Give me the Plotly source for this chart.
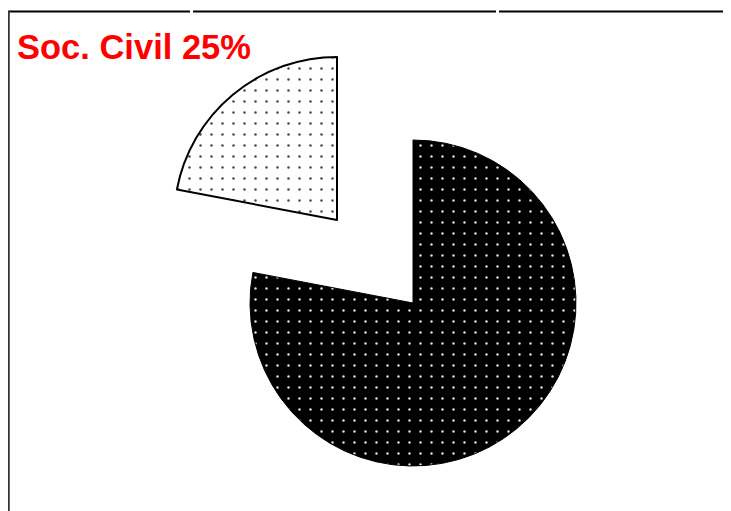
import plotly.graph_objects as go

W, H = 731, 511
OFF = 8  # page offset of the figure in the browser window

labels = ["Resto", "Soc. Civil"]
values = [78, 22]
title_text = "Soc. Civil 25%"

R = 163
main_c = (413 - OFF, 303 - OFF)
pull_c = (337 - OFF, 220 - OFF)


def dom(c):
    cx, cy = c
    return dict(x=[(cx - R) / W, (cx + R) / W],
                y=[(H - cy - R) / H, (H - cy + R) / H])


fig = go.Figure()

fig.add_trace(go.Pie(
    labels=labels, values=values, sort=False, direction="clockwise", rotation=0,
    textinfo="none", hoverinfo="label+percent", showlegend=False,
    domain=dom(main_c),
    marker=dict(colors=["black", "rgba(0,0,0,0)"],
                line=dict(color=["black", "rgba(0,0,0,0)"], width=[1, 0]),
                pattern=dict(shape=[".", ""], fgcolor=["#e0e0e0", "white"],
                             bgcolor=["black", "rgba(0,0,0,0)"],
                             size=11, solidity=0.04, fillmode="replace")),
))

fig.add_trace(go.Pie(
    labels=labels, values=values, sort=False, direction="clockwise", rotation=0,
    textinfo="none", hoverinfo="label+percent", showlegend=False,
    domain=dom(pull_c),
    marker=dict(colors=["rgba(0,0,0,0)", "white"],
                line=dict(color=["rgba(0,0,0,0)", "black"], width=[0, 2]),
                pattern=dict(shape=["", "."], fgcolor=["#444", "#444"],
                             bgcolor=["rgba(0,0,0,0)", "white"],
                             size=11, solidity=0.04, fillmode="replace")),
))


def px(x):
    return (x - OFF) / W


def py(y):
    return (H - (y - OFF)) / H


shapes = []
for x0, x1 in [(8, 190), (193, 496), (499, 740)]:
    shapes.append(dict(type="line", xref="paper", yref="paper",
                       x0=px(x0), x1=px(x1), y0=py(11.5), y1=py(11.5),
                       line=dict(color="black", width=2)))
shapes.append(dict(type="line", xref="paper", yref="paper",
                   x0=px(8.5), x1=px(8.5), y0=py(11), y1=py(520),
                   line=dict(color="#333333", width=2.5)))

fig.update_layout(
    width=W, height=H,
    margin=dict(l=0, r=0, t=0, b=0),
    paper_bgcolor="white", plot_bgcolor="white",
    shapes=shapes,
    annotations=[dict(text="<b>" + title_text + "</b>", xref="paper", yref="paper",
                      x=px(15), y=py(47), xanchor="left", yanchor="middle",
                      showarrow=False,
                      font=dict(family="Liberation Sans, Arial", size=34.5, color="#ff0000"))],
)

fig.write_html("out.html")
